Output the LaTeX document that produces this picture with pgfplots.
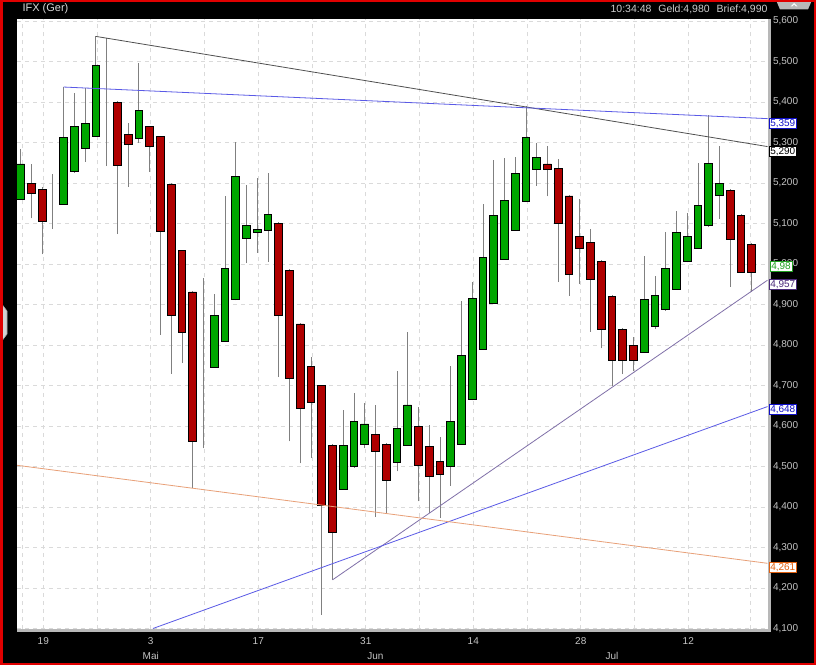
\documentclass[border=0pt]{standalone}
\usepackage{pgfplots}
\pgfplotsset{compat=1.18}
\usepackage{pgfplotstable}
\usepackage{fontspec}
\setmainfont{Liberation Sans}

\definecolor{cgreen}{HTML}{00A600}
\definecolor{cred}{HTML}{B00000}
\definecolor{wick}{HTML}{808080}
\definecolor{gridc}{HTML}{DADADA}
\definecolor{ticklab}{HTML}{C4C4C4}
\definecolor{shadow}{HTML}{B8B8B8}
\definecolor{tlgray}{HTML}{505050}
\definecolor{tlblue}{HTML}{5A5AE6}
\definecolor{tlpurple}{HTML}{8070A8}
\definecolor{tlorange}{HTML}{E8A078}
\definecolor{lbblue}{HTML}{1010C8}
\definecolor{lbgreen}{HTML}{20A020}
\definecolor{lbpurple}{HTML}{4A2A7A}
\definecolor{lborange}{HTML}{E06010}
\definecolor{frame}{HTML}{E00000}

\pgfplotstableread{
i o h l c
0 5.160 5.284 5.158 5.247
1 5.200 5.247 5.113 5.175
2 5.185 5.190 5.024 5.105
3 5.150 5.223 5.086 5.150
4 5.148 5.437 5.146 5.313
5 5.228 5.422 5.225 5.340
6 5.286 5.434 5.253 5.347
7 5.316 5.562 5.314 5.491
8 5.401 5.558 5.242 5.401
9 5.400 5.402 5.074 5.243
10 5.321 5.348 5.191 5.296
11 5.311 5.496 5.300 5.378
12 5.340 5.342 5.228 5.291
13 5.315 5.317 4.825 5.081
14 5.197 5.199 4.729 4.872
15 5.033 5.035 4.755 4.832
16 4.931 4.933 4.447 4.562
17 4.744 4.965 4.545 4.744
18 4.745 4.926 4.744 4.872
19 4.810 5.169 4.808 4.988
20 4.912 5.301 4.910 5.215
21 5.064 5.196 5.002 5.096
22 5.079 5.212 5.028 5.086
23 5.084 5.224 5.006 5.123
24 5.101 5.103 4.721 4.874
25 4.985 4.987 4.562 4.718
26 4.852 4.854 4.508 4.644
27 4.748 4.770 4.521 4.659
28 4.700 4.702 4.134 4.404
29 4.553 4.555 4.220 4.336
30 4.444 4.640 4.442 4.551
31 4.499 4.681 4.497 4.611
32 4.555 4.657 4.545 4.605
33 4.578 4.652 4.375 4.536
34 4.555 4.557 4.386 4.466
35 4.511 4.736 4.488 4.595
36 4.553 4.832 4.551 4.652
37 4.600 4.648 4.414 4.503
38 4.550 4.603 4.385 4.476
39 4.513 4.574 4.373 4.481
40 4.499 4.747 4.452 4.612
41 4.555 4.909 4.553 4.773
42 4.665 4.955 4.663 4.916
43 4.790 5.149 4.788 5.017
44 4.903 5.257 4.901 5.121
45 5.012 5.261 5.010 5.158
46 5.084 5.264 5.082 5.224
47 5.155 5.389 5.153 5.313
48 5.234 5.300 5.193 5.264
49 5.247 5.292 5.167 5.233
50 5.237 5.259 4.955 5.099
51 5.168 5.170 4.922 4.975
52 5.069 5.161 4.951 5.039
53 5.054 5.087 4.833 4.963
54 5.007 5.009 4.792 4.838
55 4.921 4.923 4.698 4.761
56 4.839 4.841 4.728 4.761
57 4.800 4.819 4.735 4.763
58 4.782 5.020 4.780 4.913
59 4.846 4.971 4.839 4.923
60 4.887 5.079 4.885 4.989
61 4.938 5.131 4.936 5.079
62 5.006 5.126 5.004 5.069
63 5.039 5.249 5.037 5.145
64 5.094 5.368 5.092 5.249
65 5.170 5.292 5.112 5.200
66 5.182 5.184 4.944 5.061
67 5.121 5.123 4.978 4.980
68 5.049 5.051 4.932 4.980
}\candles

\pgfplotsset{
  base/.style={scale only axis, width=750.5pt, height=609.5pt,
    at={(17pt,36.5pt)}, anchor=south west,
    xmin=-0.344, xmax=69.47, ymin=4.1, ymax=5.605},
}
\tikzset{
  lbl/.style={anchor=north west, fill=white, line width=0.9pt, inner sep=1.3pt,
    font=\fontsize{10}{11}\selectfont, text height=7.2pt, text depth=0.4pt},
}

\begin{document}
\begin{tikzpicture}[x=1pt,y=1pt]
\fill[black] (0,0) rectangle (816,665);
\fill[shadow] (17,33) rectangle (771,646);

% axis A: background, grid, ticks, wicks
\begin{axis}[base,
  axis background/.style={fill=white},
  axis line style={draw=none},
  major tick length=0pt, minor tick length=0pt,
  tick style={draw=none},
  xtick={2.1,12.1,22.1,32.1,42.1,52.1,62.1},
  xticklabels={19,3,17,31,14,28,12},
  minor xtick={0.15,7.1,17.1,27.1,37.1,47.1,57.1,67.9},
  extra x ticks={12.1,33,55},
  extra x tick labels={Mai,Jun,Jul},
  extra x tick style={grid=none, tick label style={yshift=-15pt}},
  ytick={4.1,4.2,4.3,4.4,4.5,4.6,4.7,4.8,4.9,5.0,5.1,5.2,5.3,5.4,5.5,5.6},
  yticklabel pos=right,
  grid=both,
  major grid style={draw=gridc, dash pattern=on 4pt off 4pt, line width=0.7pt},
  minor grid style={draw=gridc, dash pattern=on 4pt off 4pt, line width=0.7pt},
  x tick label style={text=ticklab, font=\fontsize{10}{12}\selectfont, yshift=-5.5pt},
  y tick label style={text=ticklab, font=\fontsize{10}{12}\selectfont, anchor=west, xshift=2pt,
    /pgf/number format/.cd, fixed, fixed zerofill, precision=3, use comma, assume math mode=true},
]
\addplot[draw=none, no markers, forget plot,
  error bars/.cd, y dir=plus, y explicit, error mark=none,
  error bar style={draw=wick, line width=0.9pt}]
  table[x=i, y=l, y error plus expr=\thisrow{h}-\thisrow{l}] {\candles};
\end{axis}

% axis B: candle bodies
\begin{axis}[base, hide axis, ybar stacked, bar width=7.8pt]
\addplot[draw=none, fill=none] table[x=i, y expr={min(\thisrow{o},\thisrow{c})}] {\candles};
\addplot[draw=black, line width=0.9pt, fill=cgreen] table[x=i, y expr={max(\thisrow{c}-\thisrow{o},0)}] {\candles};
\addplot[draw=black, line width=0.9pt, fill=cred] table[x=i, y expr={max(\thisrow{o}-\thisrow{c},0)}] {\candles};
\end{axis}

% axis C: trend lines
\begin{axis}[base, hide axis]
\addplot[tlgray, line width=0.8pt] coordinates {(7,5.562) (69.47,5.290)};
\addplot[tlblue, line width=0.8pt] coordinates {(4,5.437) (69.47,5.359)};
\addplot[tlpurple, line width=0.8pt] coordinates {(29,4.220) (69.47,4.960)};
\addplot[tlblue, line width=0.8pt] coordinates {(12.3,4.100) (69.47,4.648)};
\addplot[tlorange, line width=0.8pt] coordinates {(-0.344,4.503) (69.47,4.261)};
\end{axis}

% value boxes on the right
\node[lbl, draw=lbblue, text=lbblue] at (768.5,547.3) {5,359};
\node[lbl, draw=black, text=black] at (768.5,519.3) {5,290};
\node[lbl, draw=lbgreen, text=lbgreen] at (769.5,404.3) {4,98};
\node[lbl, draw=lbpurple, text=lbpurple] at (768.5,386) {4,957};
\node[lbl, draw=lbblue, text=lbblue] at (768.5,261.5) {4,648};
\node[lbl, draw=lborange, text=lborange] at (768.5,103) {4,261};

% header
\node[anchor=west, text=white!85!black, font=\fontsize{11}{13}\selectfont] at (19,656) {IFX (Ger)};
\node[anchor=east, text=white!80!black, font=\fontsize{10.5}{12}\selectfont] at (771,656) {10:34:48\hspace{4pt} Geld:4,980\hspace{4pt} Brief:4,990};

% small tabs
\fill[gray!55] (776,665) -- (812,665) -- (808,655.5) -- (780,655.5) -- cycle;
\fill[white] (790.5,658.5) -- (794,662) -- (797.5,658.5) -- (796,658.5) -- (794,660.5) -- (792,658.5) -- cycle;
\fill[gray!35, draw=gray!70, line width=0.6pt] (2.5,360) -- (7,354) -- (7,331) -- (2.5,325) -- cycle;

% red frame
\draw[frame, line width=2.5pt] (1.25,1.25) rectangle (814.75,663.75);

\pgfresetboundingbox
\useasboundingbox (0,0) rectangle (816,665);
\end{tikzpicture}
\end{document}
